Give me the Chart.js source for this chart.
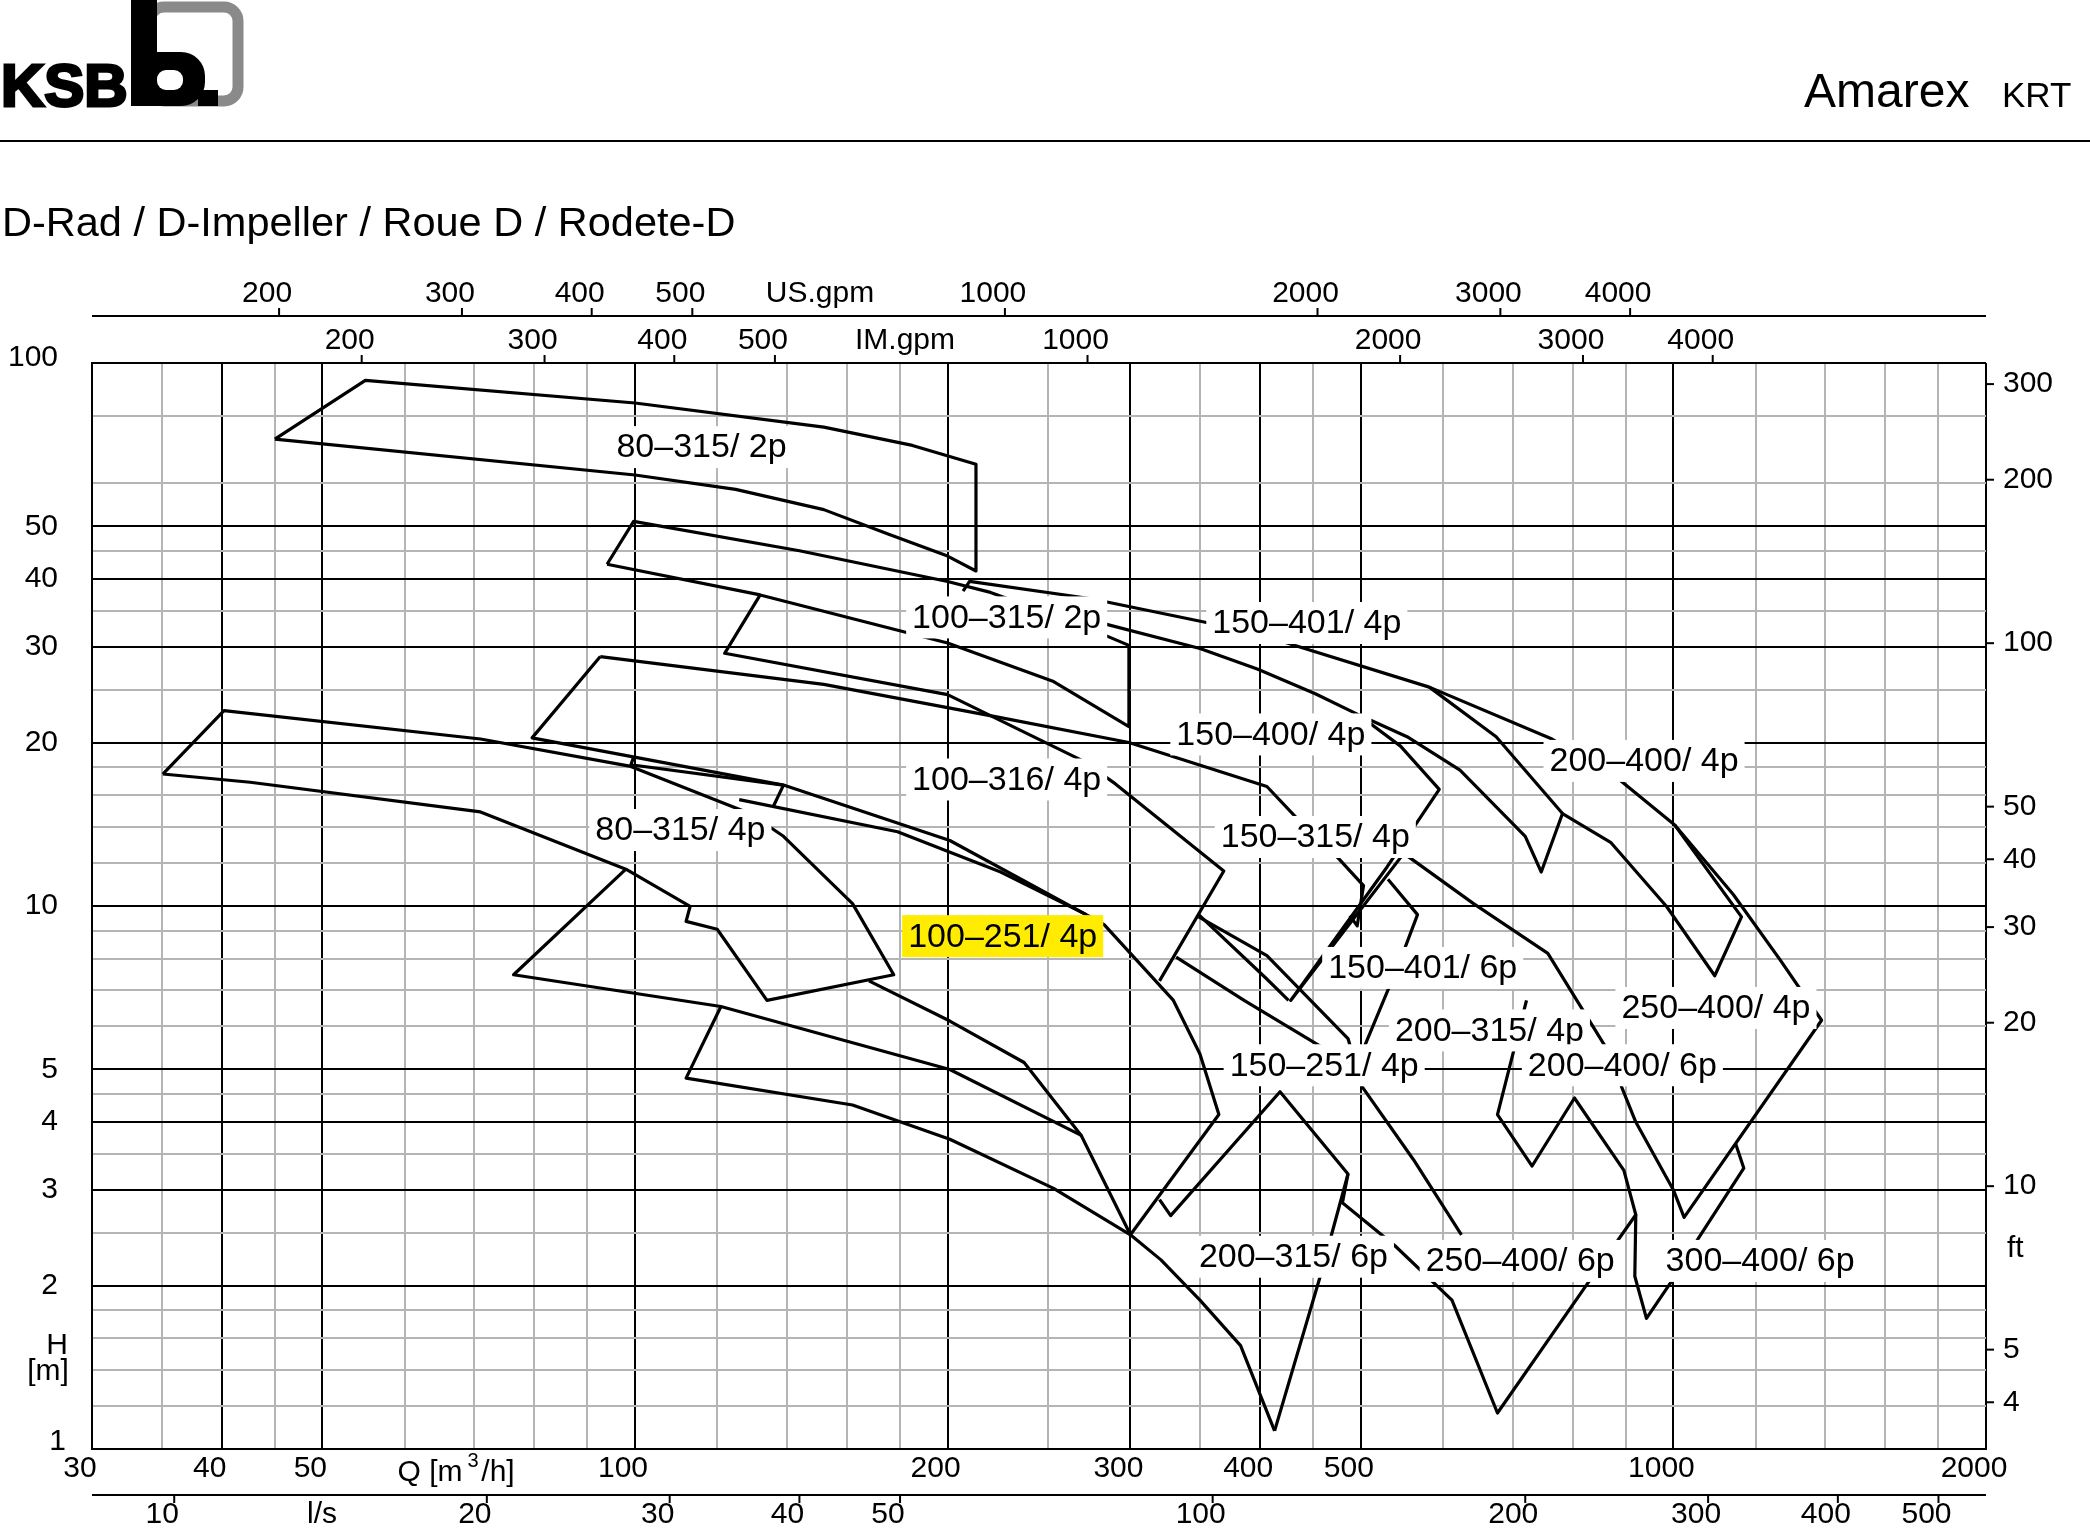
<!DOCTYPE html>
<html lang="de">
<head>
<meta charset="UTF-8">
<title>Amarex KRT - D-Rad</title>
<script src="https://cdn.jsdelivr.net/npm/chart.js"></script>
<style>
  body { margin: 0; background: #fff; }
  canvas { display: block; }
</style>
</head>
<body>
<canvas id="chart" width="2090" height="1535"></canvas>
<script>
// outlines of the fields, points as [Q m3/h, H m]
const field80_315_2p = [[45,72.4],[55,92.9],[100,84.4],[152,76.2],[185,70.5],[213,65.1],[213,41.4],[200,44.1],[175,48.5],[152,53.7],[125,58.5],[100,62.2],[45,72.4]];
const field100_315_2p = [[94,42.6],[99.7,51.1],[144,45.1],[200,39.6],[220,37.8],[271,32.7],[299,30.2],[299,21.4],[253,25.9],[200,30.5],[132,37.4],[94,42.6]];
const curve4pUpper = [[207,38.0],[210,39.6],[275,36.8],[357,33.2],[420,30.7],[582,25.3],[764,20.3],[883,17.2],[1003,14.1],[1163,9.55],[1096,7.44],[985,9.98],[870,13.1],[782,14.8],[746,11.55],[720,13.44],[623,17.8],[554,20.5],[500,22.4],[452,24.6],[398,27.3],[350,29.8],[278,33.4]];
const curve150_401_4p = [[582,25.3],[675,20.5],[782,14.8]];
const curve250_400_4p = [[499,22.4],[546,19.7],[595,16.4],[530,11.8],[428,6.7],[550,12.5],[642,10.1],[757,8.18],[860,5.51],[920,4.0],[1000,3.0],[1024,2.67],[1389,6.16],[1267,7.96],[1142,10.5],[1003,14.1]];
const curve100_251_4p = [[92.6,28.8],[79.6,20.4],[139,16.7],[201,13.2],[272,9.64],[283,9.24],[330,6.7],[350,5.34],[365,4.13],[300,2.48]];
const curve100_316_4p = [[132,37.4],[122,29.2],[200,24.5],[270,18.5],[290,16.8],[369,11.6],[320,7.28]];
const curve150_400_4p = [[92.6,28.8],[152,25.6],[223,22.3],[299,20],[406,16.6],[437,14.3],[471,12.5],[503,10.9],[496,9.19],[488,9.6]];
const field80_315_4p = [[35.1,17.5],[40.2,22.9],[71,20.3],[98.8,18.1],[129,14.8],[139,13.44],[162,10.1],[177.5,7.47],[134,6.7],[120,9.06],[112,9.37],[113,9.98],[98,11.69],[71,14.9],[42.6,16.9],[35.1,17.5]];
const curveLowA = [[98,11.69],[76.4,7.47],[121,6.53],[201,5],[269,3.78],[300,2.48]];
const curveLowB = [[168,7.28],[201,6.14],[237,5.15],[269,3.78]];
const curve200_315_6p = [[121,6.53],[112,4.82],[162,4.3],[201,3.72],[253,3.02],[300,2.48],[321,2.23],[350,1.88],[383,1.55],[413,1.08]];
const curve150_251_4p = [[320,2.88],[328,2.69],[418,4.55],[486,3.21],[457,2.08],[413,1.08]];
const curve250_400_6p = [[486,3.21],[480,2.84],[539,2.37],[612,1.88],[677,1.165],[830,2.04],[920,2.70],[896,3.26],[803,4.43],[731,3.32],[677,4.13],[722,6.7]];
const curve200_315_4p = [[625,2.48],[562,3.41],[501,4.66]];
const curve150_401_6p = [[531,11.2],[567,9.64],[546,7.96],[504,5.51]];
const curveMidA = [[349,9.55],[406,8.1],[486,5.7],[501,4.66]];
const curveMidB = [[332,8.05],[386,6.7],[462,5.45]];
const curveMidC = [[349,9.64],[405,7.37],[426,6.7]];
const curve300_400_6p = [[1148,3.65],[1169,3.29],[1058,2.45],[1000,2.06],[942,1.74],[918,2.08],[920,2.70]];
const curveSmallA = [[99.7,18.8],[99.1,18.2],[139,16.7]];
const curveSmallB = [[126,15.7],[179,13.7],[225,11.55],[272,9.64]];
const curveSmallC = [[139,16.7],[136,15.3]];

const outlines = [field80_315_2p, field100_315_2p, curve4pUpper, curve150_401_4p, curve250_400_4p,
  curve100_251_4p, curve100_316_4p, curve150_400_4p, field80_315_4p, curveLowA, curveLowB,
  curve200_315_6p, curve150_251_4p, curve250_400_6p, curve200_315_4p, curve150_401_6p,
  curveMidA, curveMidB, curveMidC, curve300_400_6p, curveSmallA, curveSmallB, curveSmallC];

// field names and where they sit [Q, H]
const pumpNames = ['80–315/ 2p','100–315/ 2p','150–401/ 4p','150–400/ 4p','100–316/ 4p','200–400/ 4p',
  '80–315/ 4p','150–315/ 4p','100–251/ 4p','150–401/ 6p','200–315/ 4p','250–400/ 4p',
  '150–251/ 4p','200–400/ 6p','200–315/ 6p','250–400/ 6p','300–400/ 6p'];
const pumpQ = [115.9,228,443.6,409.6,228,937,110.6,452,226,573.6,665,1099,461,893,430.6,712,1212];
const pumpH = [70.0,34.0,33.2,20.7,17.1,18.5,13.8,13.4,8.8,7.69,5.9,6.49,5.09,5.09,2.26,2.22,2.22];
const highlighted = '100–251/ 4p';

// axes
const qMajor = [30,40,50,100,200,300,400,500,1000,2000];
const qMinor = [35,45,60,70,80,90,120,140,160,180,250,350,450,600,700,800,900,1200,1400,1600,1800];
const hMajor = [1,2,3,4,5,10,20,30,40,50,100];
const hMinor = [1.2,1.4,1.6,1.8,2.5,3.5,4.5,6,7,8,9,12,14,16,18,25,35,45,60,80];
const usGpmTicks = [200,300,400,500,1000,2000,3000,4000];
const imGpmTicks = [200,300,400,500,1000,2000,3000,4000];
const lsTicks = [10,20,30,40,50,100,200,300,400,500];
const ftTicks = [4,5,10,20,30,40,50,100,200,300];

const FONT = '"Liberation Sans", Arial, sans-serif';

const drawLogo = (ctx) => {
  ctx.save();
  ctx.fillStyle = '#000';
  ctx.font = '900 60px ' + FONT;
  ctx.textBaseline = 'alphabetic';
  ctx.lineWidth = 3;
  ctx.strokeStyle = '#000';
  ctx.strokeText('KSB', 1, 106);
  ctx.fillText('KSB', 1, 106);
  // grey frame
  ctx.strokeStyle = '#8a8a8a';
  ctx.lineWidth = 11;
  ctx.beginPath();
  ctx.roundRect(150, 7, 88, 94, 14);
  ctx.stroke();
  // black b
  ctx.fillStyle = '#000';
  ctx.fillRect(131, 0, 26, 106);
  ctx.beginPath();
  ctx.roundRect(131, 52, 74, 54, 24);
  ctx.fill();
  ctx.fillStyle = '#fff';
  ctx.beginPath();
  ctx.roundRect(157, 70, 26, 20, 9);
  ctx.fill();
  ctx.fillStyle = '#000';
  ctx.fillRect(198, 90, 20, 16);
  ctx.restore();
};

const framePlugin = {
  id: 'frame',
  afterDatasetsDraw(chart) {
    const ctx = chart.ctx, xs = chart.scales.x, ys = chart.scales.y;
    ctx.save();
    ctx.font = '34px ' + FONT;
    ctx.textAlign = 'center';
    ctx.textBaseline = 'middle';
    pumpNames.forEach((name, i) => {
      const px = xs.getPixelForValue(pumpQ[i]);
      const py = ys.getPixelForValue(pumpH[i]);
      const w = ctx.measureText(name).width;
      ctx.fillStyle = name === highlighted ? '#ffec00' : '#fff';
      ctx.fillRect(px - w / 2 - 6, py - 21, w + 12, 42);
      ctx.fillStyle = '#000';
      ctx.fillText(name, px, py + 1);
    });
    ctx.restore();
  },
  afterDraw(chart) {
    const ctx = chart.ctx, xs = chart.scales.x, ys = chart.scales.y;
    const a = chart.chartArea;
    ctx.save();
    drawLogo(ctx);
    ctx.fillStyle = '#000';
    ctx.textBaseline = 'alphabetic';
    ctx.font = '48px ' + FONT;
    ctx.fillText('Amarex', 1804, 107);
    ctx.font = '35px ' + FONT;
    ctx.fillText('KRT', 2002, 107);
    ctx.fillRect(0, 140, 2090, 2);
    ctx.font = '41.5px ' + FONT;
    ctx.fillText('D-Rad / D-Impeller / Roue D / Rodete-D', 2, 236);

    ctx.font = '30px ' + FONT;
    ctx.textBaseline = 'middle';
    ctx.textAlign = 'center';
    const shift = -12;
    // US.gpm line
    const usY = 316, imY = a.top;
    ctx.fillRect(a.left, usY - 1, a.right - a.left, 2);
    usGpmTicks.forEach(v => {
      const px = xs.getPixelForValue(v * 0.22712);
      ctx.fillRect(px - 1, usY - 8, 2, 8);
      ctx.fillText(String(v), px + shift, usY - 22);
    });
    ctx.fillText('US.gpm', 820, usY - 22);
    imGpmTicks.forEach(v => {
      const px = xs.getPixelForValue(v * 0.27277);
      ctx.fillRect(px - 1, imY - 8, 2, 8);
      ctx.fillText(String(v), px + shift, imY - 22);
    });
    ctx.fillText('IM.gpm', 905, imY - 22);
    // Q axis labels
    qMajor.forEach(v => {
      ctx.fillText(String(v), xs.getPixelForValue(v) + shift, a.bottom + 20);
    });
    ctx.fillText('Q [m', 430, a.bottom + 24);
    ctx.font = '20px ' + FONT;
    ctx.fillText('3', 473, a.bottom + 12);
    ctx.font = '30px ' + FONT;
    ctx.fillText('/h]', 498, a.bottom + 24);
    // l/s line
    const lsY = 1495;
    ctx.fillRect(a.left, lsY - 1, a.right - a.left, 2);
    lsTicks.forEach(v => {
      const px = xs.getPixelForValue(v * 3.6);
      ctx.fillRect(px - 1, lsY, 2, 8);
      ctx.fillText(String(v), px + shift, lsY + 20);
    });
    ctx.fillText('l/s', 322, lsY + 20);
    // H axis
    ctx.textAlign = 'right';
    hMajor.forEach(v => {
      const py = ys.getPixelForValue(v) + (v === 100 ? -5 : v === 1 ? -7 : 0);
      ctx.fillText(String(v), v === 1 ? 66 : 58, py);
    });
    ctx.textAlign = 'center';
    ctx.fillText('H', 57, 1346);
    ctx.fillText('[m]', 48, 1372);
    // ft axis
    ctx.textAlign = 'left';
    ftTicks.forEach(v => {
      const py = ys.getPixelForValue(v * 0.3048);
      ctx.fillRect(a.right, py - 1, 8, 2);
      ctx.fillText(String(v), 2003, py);
    });
    ctx.fillText('ft', 2007, 1249);
    ctx.restore();
  }
};

const gridColor = (major) => (c) => major.includes(c.tick.value) ? '#000' : '#b4b4b4';

new Chart(document.getElementById('chart').getContext('2d'), {
  type: 'scatter',
  data: {
    datasets: outlines.map(pts => ({
      data: pts.map(([q, h]) => ({ x: q, y: h })),
      showLine: true,
      borderColor: '#000',
      borderWidth: 3.2,
      borderJoinStyle: 'round',
      pointRadius: 0,
      fill: false,
      tension: 0
    }))
  },
  options: {
    responsive: false,
    animation: false,
    devicePixelRatio: 1,
    layout: { padding: { left: 92, right: 104, top: 363, bottom: 86 } },
    plugins: { legend: { display: false }, tooltip: { enabled: false } },
    scales: {
      x: {
        type: 'logarithmic', min: 30, max: 2000,
        ticks: { display: false },
        afterBuildTicks: s => { s.ticks = qMajor.concat(qMinor).map(v => ({ value: v })); },
        grid: { color: gridColor(qMajor), lineWidth: 2, drawTicks: false },
        border: { color: '#000', width: 2 }
      },
      y: {
        type: 'logarithmic', min: 1, max: 100,
        ticks: { display: false },
        afterBuildTicks: s => { s.ticks = hMajor.concat(hMinor).map(v => ({ value: v })); },
        grid: { color: gridColor(hMajor), lineWidth: 2, drawTicks: false },
        border: { color: '#000', width: 2 }
      }
    }
  },
  plugins: [framePlugin]
});
</script>
</body>
</html>
